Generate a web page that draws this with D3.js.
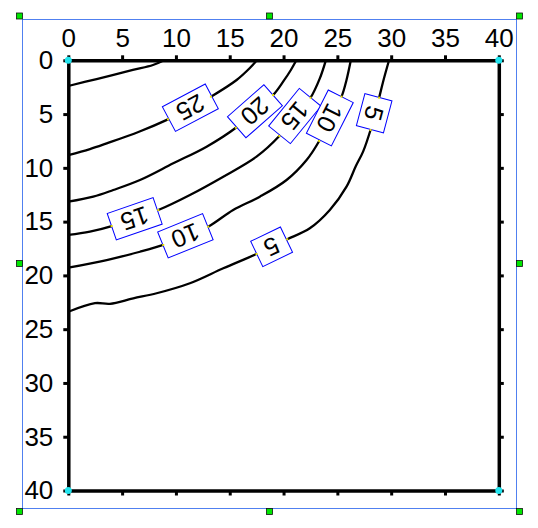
<!DOCTYPE html>
<html>
<head>
<meta charset="utf-8">
<script src="https://cdn.jsdelivr.net/npm/d3@7"></script>
<style>
  body { margin: 0; background: #fff; }
  svg { display: block; font-family: "Liberation Sans", Arial, sans-serif; }
</style>
</head>
<body>
<div id="chart"></div>
<script>
var xTicks = [0, 5, 10, 15, 20, 25, 30, 35, 40];
var yTicks = [0, 5, 10, 15, 20, 25, 30, 35, 40];

// contour lines, [x, depth]
var contour30 = [[0, 2.39], [2.63, 1.74], [6.0, 0.9], [7.87, 0.44], [8.9, 0]];
var contour25 = [[0, 8.81], [2.01, 8.25], [3.57, 7.72], [6.57, 6.64], [9.26, 5.49], [11.3, 4.44],
	[13.25, 3.38], [15.64, 1.83], [16.87, 0.72], [17.52, 0]];
var contour20 = [[0, 13.15], [2.32, 12.68], [4.18, 12.06], [6.66, 11.13], [9.75, 9.58], [12.85, 8.03],
	[15.57, 6.27], [17.33, 4.71], [19.03, 3.23], [19.96, 1.99], [20.68, 0.9], [21.19, 0]];
var contour15 = [[0, 16.24], [2.01, 15.93], [4.03, 15.41], [6.2, 14.66], [8.36, 13.92], [11.3, 12.52],
	[14.4, 10.82], [17.49, 8.96], [19.61, 7.04], [21.05, 5.27], [22.51, 3.48], [23.37, 1.68], [23.93, 0]];
var contour10 = [[0, 19.28], [3.57, 18.57], [6.66, 17.8], [8.82, 17.17], [10.93, 16.34], [13.0, 15.47],
	[15.32, 13.92], [17.8, 12.68], [20.28, 11.13], [22.14, 9.27], [23.31, 7.5], [24.3, 5.46],
	[25.39, 3.38], [25.85, 1.83], [26.25, 0]];
var contour5 = [[0, 23.38], [2.48, 22.58], [3.87, 22.64], [6.04, 22.13], [8.21, 21.66], [11.3, 20.73],
	[14.4, 19.34], [17.49, 18.01], [18.92, 17.33], [20.34, 16.64], [22.44, 15.62], [24.3, 13.92],
	[25.85, 11.75], [26.72, 9.83], [27.39, 8.49], [28.08, 6.48], [28.48, 4.99], [28.88, 3.48],
	[29.25, 1.99], [29.8, 0]];

var levels = [30, 25, 20, 15, 10, 5];
var contourPts = [contour30, contour25, contour20, contour15, contour10, contour5];

// contour labels
var labelLevels = [25, 20, 15, 10, 5, 15, 10, 5];
var labelX = [11.34, 17.34, 21.05, 24.3, 28.42, 6.17, 10.88, 18.89];
var labelY = [4.41, 4.74, 5.18, 5.36, 4.92, 14.74, 16.32, 17.34];

var W = 538, H = 528;

var svg = d3.select('#chart').append('svg')
	.attr('width', W)
	.attr('height', H);

var x = d3.scaleLinear().domain([0, 40]).range([68.3, 498.8]);
var y = d3.scaleLinear().domain([0, 40]).range([60.3, 490.5]);

svg.append('clipPath').attr('id', 'plotclip')
	.append('rect')
	.attr('x', x(0)).attr('y', y(0))
	.attr('width', x(40) - x(0)).attr('height', y(40) - y(0));

var line = d3.line()
	.x(function(d){ return x(d[0]); })
	.y(function(d){ return y(d[1]); })
	.curve(d3.curveCatmullRom.alpha(0.5));

var lineG = svg.append('g').attr('clip-path', 'url(#plotclip)');
contourPts.forEach(function(pts, i){
	lineG.append('path')
		.attr('d', line(pts))
		.attr('fill', 'none')
		.attr('stroke', '#000')
		.attr('stroke-width', 2.3);
});

// labels sit on the line, text turned upside down
var labelG = svg.append('g');
labelLevels.forEach(function(lev, i){
	var pts = contourPts[levels.indexOf(lev)];
	var best = 1, bd = Infinity;
	for (var k = 1; k < pts.length - 1; k++) {
		var dd = Math.pow(pts[k][0] - labelX[i], 2) + Math.pow(pts[k][1] - labelY[i], 2);
		if (dd < bd) { bd = dd; best = k; }
	}
	var a = pts[best - 1], b = pts[best + 1];
	var ang = Math.atan2(y(b[1]) - y(a[1]), x(b[0]) - x(a[0])) * 180 / Math.PI;
	var cx = x(labelX[i]), cy = y(labelY[i]);
	var txt = String(lev);
	var bw = txt.length == 1 ? 33 : 48.5, bh = 28;

	var g = labelG.append('g')
		.attr('transform', 'translate(' + cx + ',' + cy + ') rotate(' + ang + ')');
	g.append('rect')
		.attr('x', -bw / 2).attr('y', -bh / 2)
		.attr('width', bw).attr('height', bh)
		.attr('fill', '#fff')
		.attr('stroke', '#0000ff')
		.attr('stroke-width', 1);
	g.append('text')
		.attr('transform', 'rotate(180)')
		.attr('text-anchor', 'middle')
		.attr('dy', '0.36em')
		.attr('font-size', 25)
		.attr('fill', '#000')
		.text(txt);

	[a, b].forEach(function(p){
		labelG.append('rect')
			.attr('x', x(p[0]) - 1).attr('y', y(p[1]) - 1)
			.attr('width', 2).attr('height', 2)
			.attr('fill', '#e8e000');
	});
});

// axes
function styleAxis(g){
	g.select('.domain').attr('stroke-width', 3.5).attr('stroke-linecap', 'square');
	g.selectAll('.tick line').attr('stroke-width', 3);
	g.selectAll('.tick text').attr('font-size', 26).attr('fill', '#000')
		.attr('font-family', '"Liberation Sans", Arial, sans-serif');
}

svg.append('g')
	.attr('transform', 'translate(0,' + y(0) + ')')
	.call(d3.axisTop(x).tickValues(xTicks).tickSize(5).tickSizeOuter(0).tickPadding(8.5))
	.call(styleAxis);
svg.append('g')
	.attr('transform', 'translate(' + x(0) + ',0)')
	.call(d3.axisLeft(y).tickValues(yTicks).tickSize(5).tickSizeOuter(0).tickPadding(10))
	.call(styleAxis);
svg.append('g')
	.attr('transform', 'translate(0,' + y(40) + ')')
	.call(d3.axisBottom(x).tickValues(xTicks).tickSize(5).tickSizeOuter(0).tickFormat(''))
	.call(styleAxis);
svg.append('g')
	.attr('transform', 'translate(' + x(40) + ',0)')
	.call(d3.axisRight(y).tickValues(yTicks).tickSize(5).tickSizeOuter(0).tickFormat(''))
	.call(styleAxis);

// corner markers
[[0, 0], [40, 0], [0, 40], [40, 40]].forEach(function(c){
	svg.append('circle')
		.attr('cx', x(c[0])).attr('cy', y(c[1]))
		.attr('r', 3.5)
		.attr('fill', '#22e4ee');
});

// selection frame
svg.append('rect')
	.attr('x', 22.5).attr('y', 19.5)
	.attr('width', 494).attr('height', 489)
	.attr('fill', 'none')
	.attr('stroke', '#5080f0')
	.attr('stroke-width', 1);

var hx = [19.5, 269.5, 519.5], hy = [16, 263.5, 511.5];
hy.forEach(function(yy, j){
	hx.forEach(function(xx, i){
		if (i == 1 && j == 1) return;
		svg.append('rect')
			.attr('x', xx - 3).attr('y', yy - 3)
			.attr('width', 6).attr('height', 6)
			.attr('fill', '#00e600')
			.attr('stroke', '#111')
			.attr('stroke-width', 0.8);
	});
});
</script>
</body>
</html>
